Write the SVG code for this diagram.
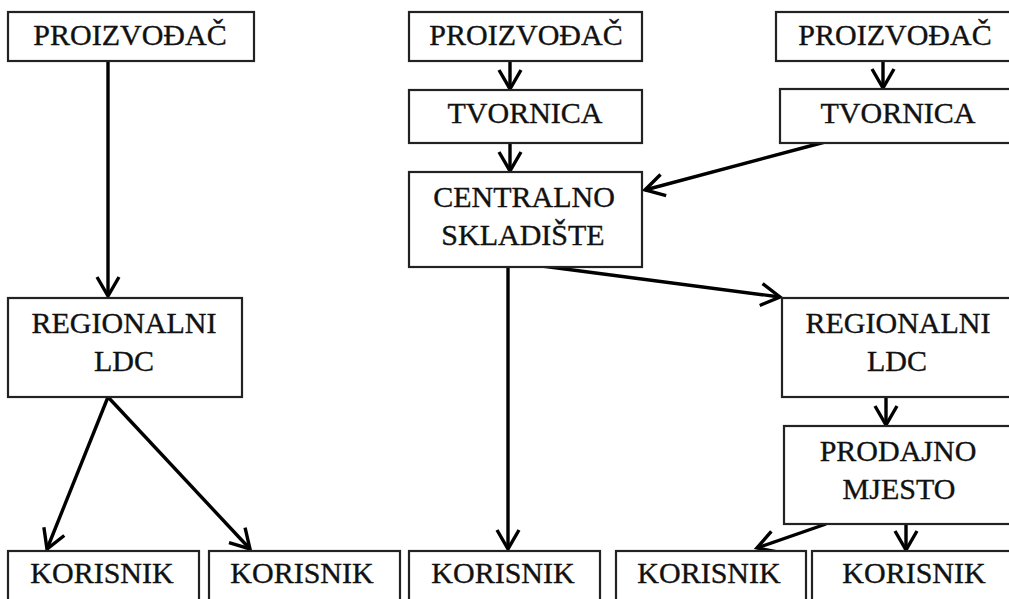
<svg xmlns="http://www.w3.org/2000/svg" width="1009" height="599" viewBox="0 0 1009 599">
<defs>
<style>
.box{fill:#fff;stroke:#222;stroke-width:2.2}
.t{font-family:'Liberation Serif','DejaVu Serif',serif;font-size:30px;fill:#111;stroke:#111;stroke-width:0.35;text-anchor:middle}
.c{stroke:#000;stroke-width:3.4;fill:none}
</style>
<marker id="ah" viewBox="0 0 24 26" refX="21" refY="13" markerWidth="24" markerHeight="26" markerUnits="userSpaceOnUse" orient="auto">
<path d="M2,2 L21,13 L2,24" fill="none" stroke="#000" stroke-width="3.4"/>
</marker>
</defs>
<rect width="1009" height="599" fill="#fff"/>
<g id="connectors">
<line class="c" x1="108" y1="61" x2="108" y2="296" marker-end="url(#ah)"/>
<line class="c" x1="510" y1="61" x2="510" y2="89" marker-end="url(#ah)"/>
<line class="c" x1="510" y1="143" x2="510" y2="171" marker-end="url(#ah)"/>
<line class="c" x1="825" y1="142" x2="645" y2="190" marker-end="url(#ah)"/>
<line class="c" x1="542" y1="266" x2="780" y2="297" marker-end="url(#ah)"/>
<line class="c" x1="508" y1="267" x2="508" y2="549" marker-end="url(#ah)"/>
<line class="c" x1="883" y1="61" x2="883" y2="88" marker-end="url(#ah)"/>
<line class="c" x1="108" y1="397" x2="47" y2="549" marker-end="url(#ah)"/>
<line class="c" x1="108" y1="397" x2="250" y2="549" marker-end="url(#ah)"/>
<line class="c" x1="886" y1="397" x2="886" y2="425" marker-end="url(#ah)"/>
<line class="c" x1="826" y1="524" x2="757" y2="548" marker-end="url(#ah)"/>
<line class="c" x1="906" y1="524" x2="906" y2="550" marker-end="url(#ah)"/>
</g>
<g id="n1"><rect class="box" x="8" y="12" width="246" height="49"/><text class="t" x="130" y="45">PROIZVOĐAČ</text></g>
<g id="n2"><rect class="box" x="409" y="12" width="233" height="49"/><text class="t" x="526" y="45">PROIZVOĐAČ</text></g>
<g id="n3"><rect class="box" x="776" y="12" width="240" height="49"/><text class="t" x="895" y="45">PROIZVOĐAČ</text></g>
<g id="n4"><rect class="box" x="409" y="90" width="233" height="53"/><text class="t" x="525" y="123">TVORNICA</text></g>
<g id="n5"><rect class="box" x="780" y="89" width="240" height="54"/><text class="t" x="898" y="123">TVORNICA</text></g>
<g id="n6"><rect class="box" x="409" y="172" width="233" height="95"/><text class="t" x="524" y="207">CENTRALNO</text><text class="t" x="523" y="245">SKLADIŠTE</text></g>
<g id="n7"><rect class="box" x="8" y="298" width="234" height="99"/><text class="t" x="124" y="333">REGIONALNI</text><text class="t" x="124" y="371">LDC</text></g>
<g id="n8"><rect class="box" x="782" y="298" width="234" height="99"/><text class="t" x="898" y="333">REGIONALNI</text><text class="t" x="897" y="371">LDC</text></g>
<g id="n9"><rect class="box" x="784" y="426" width="232" height="98"/><text class="t" x="898" y="461">PRODAJNO</text><text class="t" x="899" y="499">MJESTO</text></g>
<g id="n10"><rect class="box" x="8" y="551" width="191" height="60"/><text class="t" x="102" y="583">KORISNIK</text></g>
<g id="n11"><rect class="box" x="209" y="551" width="191" height="60"/><text class="t" x="302" y="583">KORISNIK</text></g>
<g id="n12"><rect class="box" x="409" y="551" width="191" height="60"/><text class="t" x="503" y="583">KORISNIK</text></g>
<g id="n13"><rect class="box" x="616" y="551" width="190" height="60"/><text class="t" x="709" y="583">KORISNIK</text></g>
<g id="n14"><rect class="box" x="812" y="551" width="205" height="60"/><text class="t" x="914" y="583">KORISNIK</text></g>
</svg>
